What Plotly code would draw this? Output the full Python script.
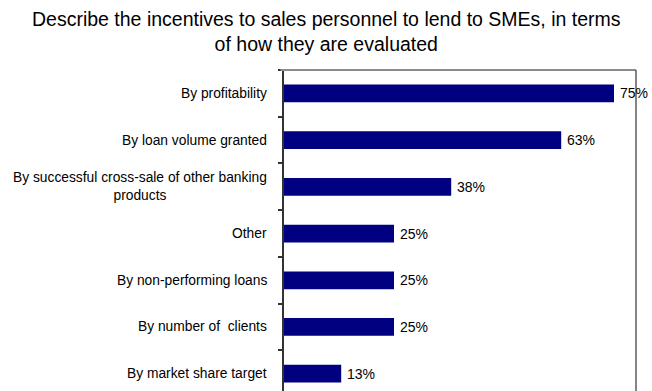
import plotly.graph_objects as go

# Survey question and answer options (top to bottom)
title_text = "Describe the incentives to sales personnel to lend to SMEs, in terms<br>of how they are evaluated"
categories = [
    "By profitability",
    "By loan volume granted",
    "By successful cross-sale of other banking<br>products",
    "Other",
    "By non-performing loans",
    "By number of  clients",
    "By market share target",
]
shares = [75, 63, 38, 25, 25, 25, 13]  # percent of respondents
value_labels = [f"{v}%" for v in shares]

FONT = "Arial, Liberation Sans, sans-serif"
NAVY = "#000080"

fig = go.Figure()

fig.add_trace(go.Bar(
    x=shares,
    y=categories,
    orientation="h",
    marker=dict(color=NAVY, line=dict(width=0)),
    hoverinfo="skip",
))

# Value labels just past the end of each bar
for cat, v, lab in zip(categories, shares, value_labels):
    fig.add_annotation(
        x=v, xref="x", xanchor="left", xshift=4,
        y=cat, yref="y", yanchor="middle",
        text=lab, showarrow=False,
        font=dict(family=FONT, size=14, color="#000000"),
    )

# Category labels, centred on multiple lines and right-aligned to the axis
for cat in categories:
    fig.add_annotation(
        x=0, xref="paper", xanchor="right", xshift=-15,
        y=cat, yref="y", yanchor="middle",
        text=cat, showarrow=False, align="center",
        font=dict(family=FONT, size=13.8, color="#000000"),
    )

# Chart title, two centred lines above the plot area
fig.add_annotation(
    x=0.12, xref="paper", xanchor="center",
    y=1.198, yref="paper", yanchor="top",
    text=title_text, showarrow=False, align="center",
    font=dict(family=FONT, size=19.5, color="#000000"),
)

# Plot-area frame: grey top edge and dark right edge
fig.add_shape(type="line", xref="paper", yref="paper", x0=-0.01, x1=1, y0=1, y1=1,
              line=dict(color="#8c8c8c", width=2))
fig.add_shape(type="line", xref="paper", yref="paper", x0=1, x1=1, y0=0, y1=1,
              line=dict(color="#333333", width=1.2))

fig.update_layout(
    width=652, height=391,
    margin=dict(l=284, r=16, t=70, b=0),
    paper_bgcolor="white", plot_bgcolor="white",
    showlegend=False,
    bargap=0.62,
    xaxis=dict(range=[0, 80], showgrid=False, zeroline=False, showline=False,
               showticklabels=False, ticks=""),
    yaxis=dict(type="category", categoryorder="array", categoryarray=categories,
               range=[6.37, -0.5], showgrid=False, zeroline=False,
               showline=True, linecolor="#333333", linewidth=2,
               ticks="outside", tickson="boundaries", ticklen=4,
               tickcolor="#333333", tickwidth=1.5, showticklabels=False),
)

fig.write_html("out.html")
